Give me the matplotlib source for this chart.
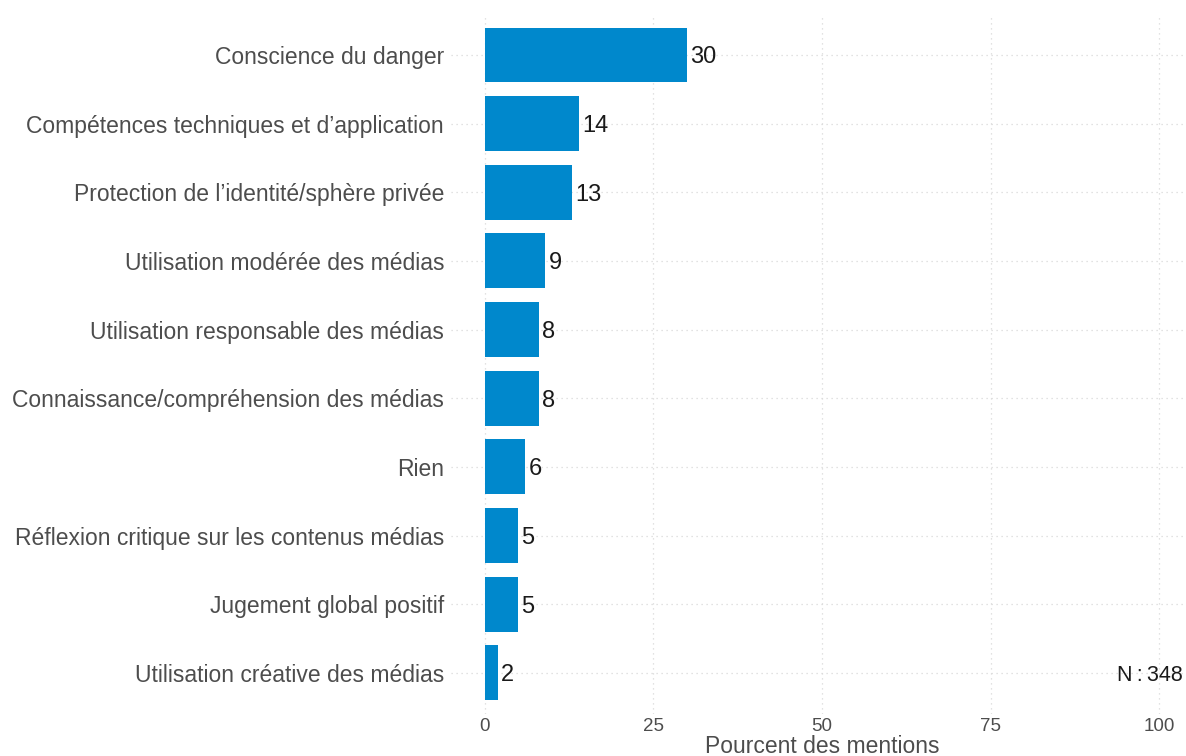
import matplotlib
matplotlib.use("Agg")
import matplotlib.pyplot as plt

categories = [
    "Conscience du danger",
    "Compétences techniques et d’application",
    "Protection de l’identité/sphère privée",
    "Utilisation modérée des médias",
    "Utilisation responsable des médias",
    "Connaissance/compréhension des médias",
    "Rien",
    "Réflexion critique sur les contenus médias",
    "Jugement global positif",
    "Utilisation créative des médias",
]
values = [30, 14, 13, 9, 8, 8, 6, 5, 5, 2]
x_ticks = [0, 25, 50, 75, 100]
n_label = "N\u2009:\u2009348"
x_title = "Pourcent des mentions"

plt.rcParams['font.family'] = ['Liberation Sans', 'DejaVu Sans']

fig = plt.figure(figsize=(11.86, 7.56), dpi=100)
ax = fig.add_axes([451/1186, 1 - 714/756, 742/1186, (714 - 13.8)/756])

n = len(categories)
ypos = list(range(n, 0, -1))
bar_color = "#0088CC"
ax.barh(ypos, values, height=0.8, color=bar_color, zorder=2)

for y, v in zip(ypos, values):
    ax.annotate(str(v), xy=(v, y), xytext=(2.2, 0), textcoords="offset points",
                ha="left", va="center_baseline", fontsize=17, color="#1a1a1a", zorder=3)

ax.set_xlim(-5, 105)
ax.set_ylim(0.4, n + 0.6)
ax.set_yticks(ypos)
ax.set_yticklabels(categories, fontsize=16.5, color="#4d4d4d")
ax.set_xticks(x_ticks)
ax.set_xticklabels([str(t) for t in x_ticks], fontsize=13.5, color="#4d4d4d")
ax.tick_params(axis="both", length=0)
ax.tick_params(axis="y", pad=5)
ax.tick_params(axis="x", pad=3)

ax.grid(True, axis="both", color="#d9d9d9", linestyle=(0, (1, 3)), linewidth=0.9, zorder=0)
for s in ax.spines.values():
    s.set_visible(False)

ax.set_xlabel(x_title, fontsize=16.5, color="#4d4d4d", labelpad=0)

fig.text(1183/1186, 1 - 673/756, n_label, ha="right", va="center_baseline", fontsize=15.5, color="#1a1a1a")

fig.savefig("out.png", dpi=100)
